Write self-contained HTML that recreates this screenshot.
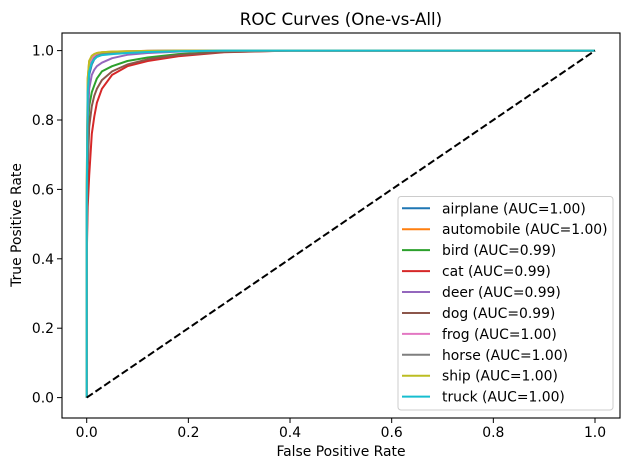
<!DOCTYPE html>
<html><head><meta charset="utf-8"><style>
body{margin:0;background:#fff;font-family:"Liberation Sans","DejaVu Sans",sans-serif}
svg text{font-family:"DejaVu Sans","Liberation Sans",sans-serif}
</style></head><body>
<svg id="c" width="630" height="470" xmlns="http://www.w3.org/2000/svg"></svg>
<script>
const classNames=["airplane","automobile","bird","cat","deer","dog","frog","horse","ship","truck"];
const aucLabels=["1.00","1.00","0.99","0.99","0.99","0.99","1.00","1.00","1.00","1.00"];
const colors=["#1f77b4","#ff7f0e","#2ca02c","#d62728","#9467bd","#8c564b","#e377c2","#7f7f7f","#bcbd22","#17becf"];
const fprPts=[0,0.002,0.005,0.01,0.015,0.02,0.03,0.05,0.08,0.12,0.18,0.27,0.4,1];
const tprAirplane=[0.5,0.85,0.93,0.96,0.975,0.982,0.988,0.993,0.996,0.998,0.999,1,1,1];
const tprAutomobile=[0.6,0.92,0.97,0.985,0.99,0.993,0.995,0.997,0.998,0.999,1,1,1,1];
const tprBird=[0.45,0.75,0.84,0.88,0.9,0.92,0.94,0.955,0.97,0.98,0.99,0.997,1,1];
const tprCat=[0.4,0.55,0.64,0.76,0.81,0.85,0.89,0.93,0.955,0.97,0.984,0.995,1,1];
const tprDeer=[0.5,0.8,0.89,0.93,0.945,0.955,0.965,0.978,0.988,0.993,0.997,1,1,1];
const tprDog=[0.4,0.65,0.78,0.84,0.87,0.89,0.915,0.94,0.96,0.975,0.987,0.996,1,1];
const tprFrog=[0.55,0.88,0.95,0.975,0.985,0.99,0.993,0.996,0.998,0.999,1,1,1,1];
const tprHorse=[0.55,0.86,0.94,0.965,0.978,0.985,0.99,0.994,0.997,0.999,1,1,1,1];
const tprShip=[0.6,0.92,0.97,0.985,0.99,0.993,0.995,0.997,0.998,0.999,1,1,1,1];
const tprTruck=[0.55,0.88,0.94,0.965,0.975,0.982,0.987,0.99,0.993,0.996,0.998,1,1,1];
const allTpr=[tprAirplane,tprAutomobile,tprBird,tprCat,tprDeer,tprDog,tprFrog,tprHorse,tprShip,tprTruck];
const xTicks=[0,0.2,0.4,0.6,0.8,1.0];
const yTicks=[0,0.2,0.4,0.6,0.8,1.0];
const NS="http://www.w3.org/2000/svg";
const svg=document.getElementById('c');
const L=62,R=620,T=33,B=418;
const xs=v=>86.7+v*508.3;
const ys=v=>397.6-v*347;
function mk(tag,attrs,parent){const e=document.createElementNS(NS,tag);for(const k in attrs)e.setAttribute(k,attrs[k]);(parent||svg).appendChild(e);return e;}
const g=mk('g',{});


classNames.forEach((n,i)=>{
  const d=fprPts.map((f,j)=>'L'+xs(f).toFixed(1)+','+ys(allTpr[i][j]).toFixed(1)).join(' ');
  const p=mk('path',{d:'M'+xs(0)+','+ys(0)+' '+d,fill:'none',stroke:colors[i],'stroke-width':2,'stroke-linejoin':'round'},g);
  
  
});
const diag=mk('line',{x1:xs(0),y1:ys(0),x2:xs(1),y2:ys(1),stroke:'#000','stroke-width':2,'stroke-dasharray':'7.4,3.2'});


const fr=mk('rect',{x:L,y:T,width:R-L,height:B-T,fill:'none',stroke:'#000','stroke-width':1.1});


xTicks.forEach(t=>{
  mk('line',{x1:xs(t),x2:xs(t),y1:B,y2:B+5,stroke:'#000'});
  const tx=mk('text',{x:xs(t),y:B+19,'text-anchor':'middle','font-size':13.9});
  tx.textContent=t.toFixed(1);
  
  
});
yTicks.forEach(t=>{
  mk('line',{x1:L-5,x2:L,y1:ys(t),y2:ys(t),stroke:'#000'});
  const tx=mk('text',{x:L-8,y:ys(t)+5,'text-anchor':'end','font-size':13.9});
  tx.textContent=t.toFixed(1);
  
  
});
let t=mk('text',{x:341,y:456,'text-anchor':'middle','font-size':13.9});t.textContent='False Positive Rate';


t=mk('text',{x:21,y:225,'text-anchor':'middle','font-size':13.9,transform:'rotate(-90 21 225)'});t.textContent='True Positive Rate';


t=mk('text',{x:341,y:25,'text-anchor':'middle','font-size':16.7});t.textContent='ROC Curves (One-vs-All)';


const lg=mk('g',{});


mk('rect',{x:398,y:196.5,width:215,height:213.5,rx:3,fill:'#fff','fill-opacity':0.8,stroke:'#ccc'},lg);
classNames.forEach((n,i)=>{
  const y=208.3+i*20.93;
  const e=mk('g',{},lg);
  
  
  mk('line',{x1:402,x2:430,y1:y,y2:y,stroke:colors[i],'stroke-width':2},e);
  const tx=mk('text',{x:442,y:y+5,'font-size':13.9},e);
  tx.textContent=n+' (AUC='+aucLabels[i]+')';
});
</script>
</body></html>
